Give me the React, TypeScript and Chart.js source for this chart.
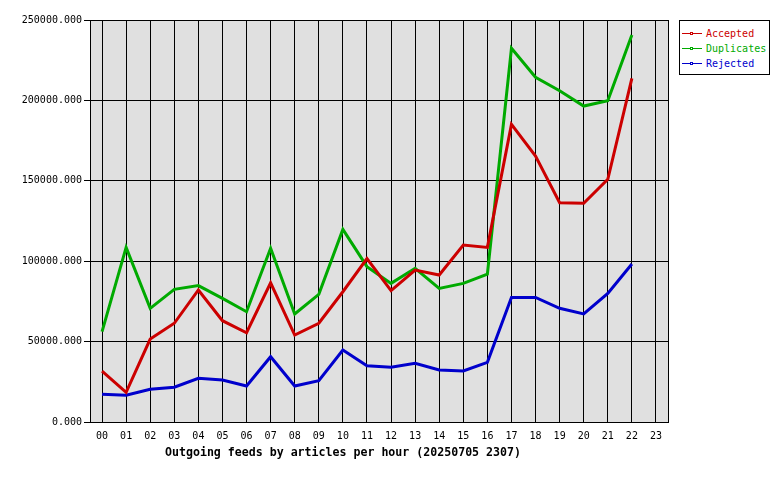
import { useEffect, useRef } from 'react'
import { Chart, registerables, type ChartConfiguration, type Plugin } from 'chart.js'

Chart.register(...registerables)

const hours = [
  '00', '01', '02', '03', '04', '05', '06', '07', '08', '09', '10', '11',
  '12', '13', '14', '15', '16', '17', '18', '19', '20', '21', '22', '23',
]

const accepted = [
  31700, 18500, 51600, 61400, 82100, 63000, 55500, 86600, 54100, 61400, 81000, 101600,
  81700, 94500, 91400, 110100, 108600, 185100, 165400, 136400, 136000, 150900, 213700, null,
]

const duplicates = [
  56200, 108600, 70700, 82500, 84800, 76900, 68600, 108000, 67200, 79400, 119800, 96600,
  86200, 95600, 83100, 86200, 92000, 232400, 214400, 206000, 196500, 199800, 240700, null,
]

const rejected = [
  17200, 16600, 20300, 21600, 27200, 26100, 22400, 40600, 22400, 25700, 44800, 35000,
  34000, 36500, 32300, 31700, 37100, 77500, 77500, 70700, 67200, 80000, 98300, null,
]

const yTicks = [0, 50000, 100000, 150000, 200000, 250000]

const seriesNames = ['Accepted', 'Duplicates', 'Rejected']
const seriesColors = ['#cc0000', '#00aa00', '#0000cc']

const title = 'Outgoing feeds by articles per hour (20250705 2307)'

const MONO = '"DejaVu Sans Mono", "Liberation Mono", monospace'

// grey plot background + black frame round the plot area
const framePlugin: Plugin<'line'> = {
  id: 'frame',
  beforeDraw(chart) {
    const { ctx, chartArea } = chart
    ctx.save()
    ctx.fillStyle = '#e0e0e0'
    ctx.fillRect(chartArea.left, chartArea.top, chartArea.right - chartArea.left, chartArea.bottom - chartArea.top)
    ctx.restore()
  },
  afterDraw(chart) {
    const { ctx, chartArea } = chart
    ctx.save()
    ctx.strokeStyle = '#000000'
    ctx.lineWidth = 1
    ctx.strokeRect(
      Math.round(chartArea.left) + 0.5,
      Math.round(chartArea.top) + 0.5,
      Math.round(chartArea.right - chartArea.left),
      Math.round(chartArea.bottom - chartArea.top),
    )
    ctx.restore()
  },
}

export default function App() {
  const canvasRef = useRef<HTMLCanvasElement | null>(null)

  useEffect(() => {
    const canvas = canvasRef.current
    if (!canvas) {
      return
    }

    const config: ChartConfiguration<'line'> = {
      type: 'line',
      data: {
        labels: hours,
        datasets: [accepted, duplicates, rejected].map((values, i) => ({
          label: seriesNames[i],
          data: values,
          borderColor: seriesColors[i],
          backgroundColor: seriesColors[i],
          borderWidth: 3,
          pointRadius: 0,
          tension: 0,
          spanGaps: false,
        })),
      },
      options: {
        responsive: false,
        animation: false,
        devicePixelRatio: 1,
        layout: {
          padding: { top: 20, right: 112, bottom: 0, left: 0 },
        },
        plugins: {
          legend: { display: false },
          tooltip: { enabled: false },
        },
        scales: {
          x: {
            offset: true,
            afterFit: (scale) => {
              scale.height = 58
            },
            grid: {
              offset: false,
              color: '#000000',
              lineWidth: 1,
              drawTicks: false,
            },
            border: { display: false },
            ticks: {
              color: '#000000',
              padding: 8,
              maxRotation: 0,
              autoSkip: false,
              font: { family: MONO, size: 10 },
            },
          },
          y: {
            min: 0,
            max: 250000,
            afterFit: (scale) => {
              scale.width = 90
            },
            afterBuildTicks: (scale) => {
              scale.ticks = yTicks.map((value) => ({ value }))
            },
            grid: {
              color: '#000000',
              lineWidth: 1,
              tickLength: 6,
            },
            border: { display: false },
            ticks: {
              color: '#000000',
              padding: 2,
              font: { family: MONO, size: 10 },
              callback: (value) => Number(value).toFixed(3),
            },
          },
        },
      },
      plugins: [framePlugin],
    }

    const chart = new Chart(canvas, config)

    return () => {
      chart.destroy()
    }
  }, [])

  return (
    <div
      style={{
        position: 'absolute',
        left: 0,
        top: 0,
        width: 780,
        height: 480,
        background: '#ffffff',
        fontFamily: MONO,
      }}
    >
      <canvas ref={canvasRef} width={780} height={480} style={{ display: 'block' }} />
      <div
        style={{
          position: 'absolute',
          left: 165,
          top: 445,
          fontSize: 11.6,
          fontWeight: 'bold',
          color: '#000000',
          whiteSpace: 'pre',
          lineHeight: '14px',
        }}
      >
        {title}
      </div>
      <div
        style={{
          position: 'absolute',
          left: 679,
          top: 20,
          width: 89,
          height: 53,
          border: '1px solid #000000',
          background: '#ffffff',
        }}
      >
        {seriesNames.map((name, i) => (
          <div
            key={name}
            style={{
              position: 'absolute',
              left: 2,
              top: 6 + i * 15,
              height: 14,
              display: 'flex',
              alignItems: 'center',
              whiteSpace: 'pre',
            }}
          >
            <div style={{ position: 'relative', width: 20, height: 14, marginRight: 4 }}>
              <div
                style={{
                  position: 'absolute',
                  left: 0,
                  top: 6,
                  width: 20,
                  height: 1,
                  background: seriesColors[i],
                }}
              />
              <div
                style={{
                  position: 'absolute',
                  left: 8,
                  top: 5,
                  width: 1,
                  height: 1,
                  border: `1px solid ${seriesColors[i]}`,
                  background: '#ffffff',
                }}
              />
            </div>
            <span style={{ fontSize: 10, color: seriesColors[i], lineHeight: '14px' }}>{name}</span>
          </div>
        ))}
      </div>
    </div>
  )
}
